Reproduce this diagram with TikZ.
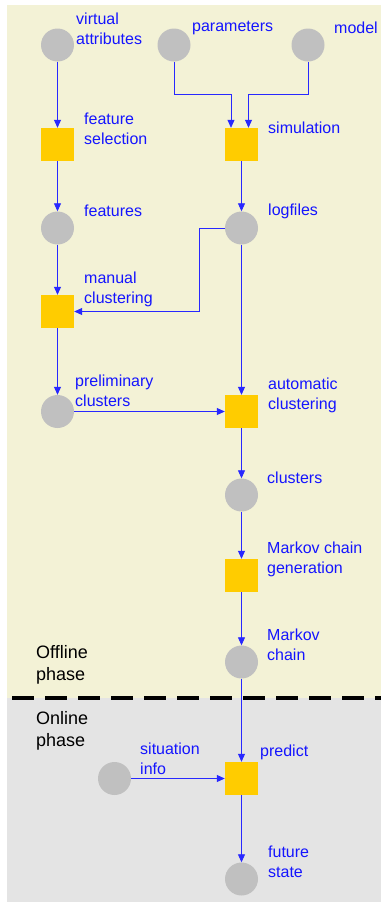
\documentclass[tikz,border=0pt]{standalone}
\usepackage{fontspec}
\setmainfont{Liberation Sans}
\usetikzlibrary{arrows.meta}
\definecolor{offbg}{RGB}{243,242,214}
\definecolor{onbg}{RGB}{228,228,228}
\definecolor{datagray}{RGB}{192,192,192}
\definecolor{procyellow}{RGB}{255,204,0}
\definecolor{flowblue}{RGB}{40,40,255}
\definecolor{txtblue}{RGB}{20,20,255}

\begin{document}
\begin{tikzpicture}[x=1pt,y=-1pt,>={Triangle[length=8pt,width=7pt]},
  data/.style={circle,fill=datagray,minimum size=33pt,inner sep=0pt},
  proc/.style={rectangle,fill=procyellow,minimum size=33pt,inner sep=0pt},
  lbl/.style={anchor=west,align=left,inner sep=0pt,text=txtblue,font=\fontsize{16}{20}\selectfont},
  phase/.style={anchor=west,align=left,inner sep=0pt,font=\fontsize{18}{22}\selectfont},
  flow/.style={->,color=flowblue,line width=0.8pt}]
        \useasboundingbox (0,0) rectangle (381,903);
        \fill[offbg] (7,5) rectangle (381,698);
        \fill[onbg] (7,698) rectangle (381,902);
        \draw[line width=3.5pt,dash pattern=on 22pt off 11pt] (12,698) -- (381,698);

        \node[data] (va)  at (57.5,45)    {};
        \node[data] (par) at (174,45)     {};
        \node[data] (mod) at (308,45)     {};
        \node[proc] (fs)  at (57.5,144.5) {};
        \node[proc] (sim) at (241.5,144.5) {};
        \node[data] (feat) at (57.5,228)  {};
        \node[data] (log) at (241.5,228)  {};
        \node[proc] (man) at (57.5,311.5) {};
        \node[data] (pre) at (57.5,411.5) {};
        \node[proc] (auto) at (241.5,411.5) {};
        \node[data] (clu) at (241.5,495)  {};
        \node[proc] (mcg) at (241.5,575.5) {};
        \node[data] (mc)  at (241.5,662)  {};
        \node[data] (sit) at (114.5,778.5) {};
        \node[proc] (pred) at (241.5,778.5) {};
        \node[data] (fut) at (241.5,879)  {};

        \node[lbl] (va-l)   at (76,29)    {virtual\\attributes};
        \node[lbl] (par-l)  at (192,28)   {parameters};
        \node[lbl] (mod-l)  at (334,28)   {model};
        \node[lbl] (fs-l)   at (84,128.5) {feature\\selection};
        \node[lbl] (sim-l)  at (268,128)  {simulation};
        \node[lbl] (feat-l) at (84,211)   {features};
        \node[lbl] (log-l)  at (268,211)  {logfiles};
        \node[lbl] (man-l)  at (84,289)   {manual\\clustering};
        \node[lbl] (pre-l)  at (75,391)   {preliminary\\clusters};
        \node[lbl] (auto-l) at (268,395)  {automatic\\clustering};
        \node[lbl] (clu-l)  at (267,478)  {clusters};
        \node[lbl] (mcg-l)  at (267,559)  {Markov chain\\generation};
        \node[lbl] (mc-l)   at (267,645)  {Markov\\chain};
        \node[lbl] (sit-l)  at (140,759)  {situation\\info};
        \node[lbl] (pred-l) at (260,752)  {predict};
        \node[lbl] (fut-l)  at (268,862)  {future\\state};
        \node[phase] (off-l) at (36,665)  {Offline\\phase};
        \node[phase] (on-l)  at (36,731)  {Online\\phase};

        \path[flow]
              (va) edge (fs)
              (fs) edge (feat)
              (sim) edge (log)
              (feat) edge (man)
              (man) edge (pre)
              (log) edge (auto)
              (pre) edge (auto)
              (auto) edge (clu)
              (clu) edge (mcg)
              (mcg) edge (mc)
              (mc) edge (pred)
              (sit) edge (pred)
              (pred) edge (fut)
              ;
        \draw[flow] (par) |- ([xshift=-10.5pt,yshift=33pt]sim.north) -- ([xshift=-10.5pt]sim.north);
        \draw[flow] (mod) |- ([xshift=7pt,yshift=33pt]sim.north) -- ([xshift=7pt]sim.north);
        \draw[flow] (log) -- ++(-42.5,0) |- (man);
\end{tikzpicture}
\end{document}
